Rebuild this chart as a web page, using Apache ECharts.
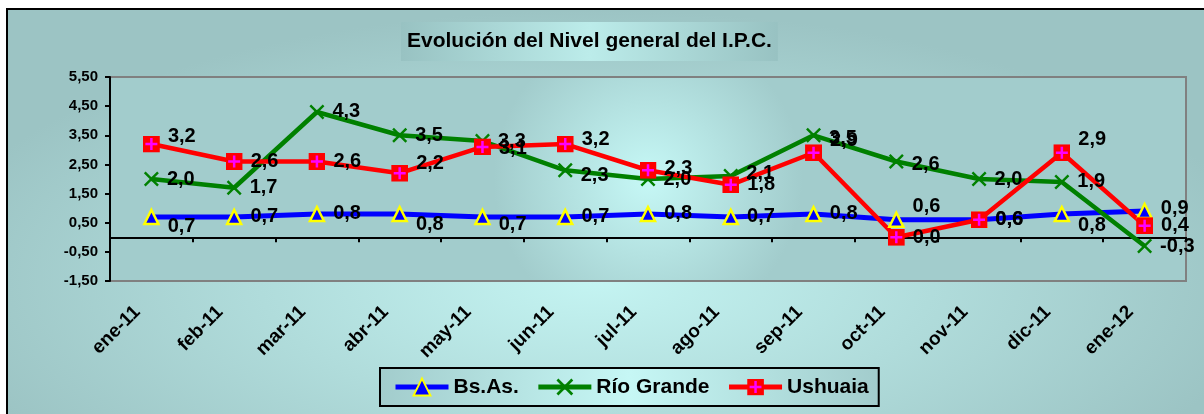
<!DOCTYPE html>
<html>
<head>
<meta charset="utf-8">
<title>Evolución del Nivel general del I.P.C.</title>
<script src="https://cdn.jsdelivr.net/npm/echarts@6/dist/echarts.min.js"></script>
<style>
  html, body { margin: 0; padding: 0; background: #fff; overflow: hidden; }
  #frame {
    position: absolute; left: 6px; top: 8px; width: 1230px; height: 440px;
    border: 2px solid #000; box-sizing: border-box;
    background: radial-gradient(ellipse 55% 62% at 48% 62%, #c4f4f2 0%, #b0dcdb 50%, #9cc4c4 100%);
  }
  #chart { position: absolute; left: 0; top: 0; width: 1204px; height: 414px; }
</style>
</head>
<body>
<div id="frame"></div>
<div id="chart"></div>
<script>
// datos
const months = ['ene-11', 'feb-11', 'mar-11', 'abr-11', 'may-11', 'jun-11', 'jul-11',
  'ago-11', 'sep-11', 'oct-11', 'nov-11', 'dic-11', 'ene-12'];
const bsAs = [0.7, 0.7, 0.8, 0.8, 0.7, 0.7, 0.8, 0.7, 0.8, 0.6, 0.6, 0.8, 0.9];
const rioGrande = [2.0, 1.7, 4.3, 3.5, 3.3, 2.3, 2.0, 2.1, 3.5, 2.6, 2.0, 1.9, -0.3];
const ushuaia = [3.2, 2.6, 2.6, 2.2, 3.1, 3.2, 2.3, 1.8, 2.9, 0.0, 0.6, 2.9, 0.4];

// desplazamiento vertical de cada etiqueta (como quedaron en el original)
const bsAsLabelDy = [10, 0, 0, 11, 8, 0, 0, 0, 0, -13, 0, 12, -3];
const rioLabelDy = [0, 0, 0, 0, 0, 5, 0, -3, 3, 3, 0, 0, 0];
const ushLabelDy = [-8, 0, 0, -10, 2, -5, -2, 0, -12, 0, 0, -13, 0];

const FONT = 'Arial, "Liberation Sans", sans-serif';

const comma = (v, d) => v.toFixed(d).replace('.', ',');

const ushSymbolSvg =
  "<svg xmlns='http://www.w3.org/2000/svg' width='17' height='17'>" +
  "<rect width='17' height='17' fill='#FF0000'/>" +
  "<path d='M8.5 2.5V14.5M2.5 8.5H14.5' stroke='#FF00FF' stroke-width='2.5'/></svg>";
const ushSymbol = 'image://data:image/svg+xml;charset=utf-8,' + encodeURIComponent(ushSymbolSvg);

const crossSymbol = 'path://M0,1.6 L1.6,0 L7,5.4 L12.4,0 L14,1.6 L8.6,7 L14,12.4 L12.4,14 L7,8.6 L1.6,14 L0,12.4 L5.4,7 Z';

function withLabelOffsets(values, dys) {
  return values.map((v, i) => ({ value: v, label: { offset: [0, dys[i]] } }));
}

const dataLabel = {
  show: true,
  position: 'right',
  distance: 8,
  formatter: p => comma(p.value, 1),
  fontFamily: FONT,
  fontSize: 20,
  fontWeight: 'bold',
  color: '#000'
};

function bandGradient(edge, mid) {
  return new echarts.graphic.LinearGradient(0, 0, 1, 0, [
    { offset: 0, color: edge },
    { offset: 0.5, color: mid },
    { offset: 1, color: edge }
  ]);
}

const chart = echarts.init(document.getElementById('chart'), null, { renderer: 'canvas' });

const option = {
  animation: false,
  backgroundColor: 'transparent',
  title: {
    text: 'Evolución del Nivel general del I.P.C.',
    left: 401,
    top: 22,
    padding: [8, 6],
    backgroundColor: bandGradient('#98c2c2', '#bcecea'),
    textStyle: { fontFamily: FONT, fontSize: 21, fontWeight: 'bold', color: '#000', lineHeight: 23 }
  },
  legend: {
    left: 380,
    top: 368,
    padding: [8, 10, 8, 13],
    itemGap: 17,
    itemWidth: 53,
    itemHeight: 21,
    borderColor: '#000',
    borderWidth: 2,
    backgroundColor: bandGradient('#a2cccc', '#c6f7f5'),
    lineStyle: { width: 5 },
    textStyle: { fontFamily: FONT, fontSize: 21, fontWeight: 'bold', color: '#000', lineHeight: 22 },
    data: ['Bs.As.', 'Río Grande', 'Ushuaia']
  },
  grid: {
    left: 110,
    top: 77,
    width: 1076,
    height: 204,
    show: true,
    borderColor: '#808080',
    borderWidth: 2,
    backgroundColor: new echarts.graphic.RadialGradient(0.5, 0.5, 0.75, [
      { offset: 0, color: '#c6f8f6' },
      { offset: 1, color: '#a2cccc' }
    ])
  },
  xAxis: [
    {
      type: 'category',
      data: months,
      position: 'bottom',
      boundaryGap: true,
      axisLine: { onZero: true, lineStyle: { color: '#000', width: 2 } },
      axisTick: { show: true, interval: 0, length: 5, lineStyle: { color: '#000', width: 2 } },
      axisLabel: { show: false },
      splitLine: { show: false }
    },
    {
      type: 'category',
      data: months,
      position: 'bottom',
      boundaryGap: true,
      axisLine: { show: false, onZero: false },
      axisTick: { show: false },
      axisLabel: {
        interval: 0,
        rotate: 45,
        margin: 14,
        padding: [0, 20, 0, 0],
        fontFamily: FONT,
        fontSize: 19,
        fontWeight: 'bold',
        color: '#000'
      },
      splitLine: { show: false }
    }
  ],
  yAxis: {
    type: 'value',
    min: -1.5,
    max: 5.5,
    interval: 1,
    axisLine: { show: true, lineStyle: { color: '#000', width: 2 } },
    axisTick: { show: true, length: 5, lineStyle: { color: '#000', width: 2 } },
    axisLabel: {
      margin: 12,
      formatter: v => comma(v, 2),
      fontFamily: FONT,
      fontSize: 15,
      fontWeight: 'bold',
      color: '#000'
    },
    splitLine: { show: false }
  },
  series: [
    {
      name: 'Bs.As.',
      type: 'line',
      xAxisIndex: 0,
      data: withLabelOffsets(bsAs, bsAsLabelDy),
      symbol: 'triangle',
      symbolSize: 14,
      showAllSymbol: true,
      lineStyle: { color: '#0000FF', width: 5 },
      itemStyle: { color: '#0000FF', borderColor: '#FFFF00', borderWidth: 2.5 },
      label: dataLabel,
      emphasis: { disabled: true }
    },
    {
      name: 'Río Grande',
      type: 'line',
      xAxisIndex: 0,
      data: withLabelOffsets(rioGrande, rioLabelDy),
      symbol: crossSymbol,
      symbolSize: 15,
      showAllSymbol: true,
      lineStyle: { color: '#008000', width: 4.5 },
      itemStyle: { color: '#008000' },
      label: dataLabel,
      emphasis: { disabled: true }
    },
    {
      name: 'Ushuaia',
      type: 'line',
      xAxisIndex: 0,
      data: withLabelOffsets(ushuaia, ushLabelDy),
      symbol: ushSymbol,
      symbolSize: 17,
      showAllSymbol: true,
      lineStyle: { color: '#FF0000', width: 4.5 },
      itemStyle: { color: '#FF0000' },
      label: dataLabel,
      emphasis: { disabled: true }
    }
  ]
};

chart.setOption(option);
</script>
</body>
</html>
